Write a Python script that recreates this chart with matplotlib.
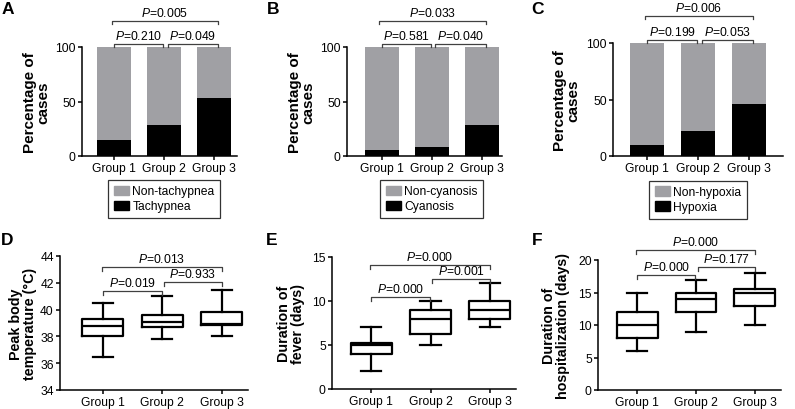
import numpy as np
import matplotlib
matplotlib.use('Agg')
import matplotlib.pyplot as plt
from matplotlib.patches import Patch

plt.rcParams['font.family'] = ['Liberation Sans', 'DejaVu Sans']
plt.rcParams['mathtext.fontset'] = 'custom'
plt.rcParams['mathtext.rm'] = 'Liberation Sans'
plt.rcParams['mathtext.it'] = 'Liberation Sans:italic'

groups = ['Group 1', 'Group 2', 'Group 3']

# stacked bars (percentage of cases)
tachypnea = [14.3, 28.6, 52.9]
cyanosis = [5.5, 8.5, 28.6]
hypoxia = [9.5, 22.5, 45.6]
bar_labels = [('Non-tachypnea', 'Tachypnea'), ('Non-cyanosis', 'Cyanosis'), ('Non-hypoxia', 'Hypoxia')]
bar_p = [['0.210', '0.049', '0.005'], ['0.581', '0.040', '0.033'], ['0.199', '0.053', '0.006']]

# box plots: whislo, q1, med, q3, whishi
temp_stats = [[36.5, 38.0, 38.8, 39.3, 40.5], [37.8, 38.7, 39.1, 39.6, 41.0], [38.0, 38.85, 38.95, 39.8, 41.5]]
fever_stats = [[2.0, 4.0, 5.0, 5.2, 7.0], [5.0, 6.2, 8.0, 9.0, 10.0], [7.0, 8.0, 9.0, 10.0, 12.0]]
hosp_stats = [[6.0, 8.0, 10.0, 12.0, 15.0], [9.0, 12.0, 14.0, 15.0, 17.0], [10.0, 13.0, 15.0, 15.5, 18.0]]
box_p = [['0.019', '0.933', '0.013'], ['0.000', '0.001', '0.000'], ['0.000', '0.177', '0.000']]

W, H = 795, 410
fig = plt.figure(figsize=(W / 100, H / 100), dpi=100)

def px_axes(l, t, r, b):
    return fig.add_axes([l / W, 1 - b / H, (r - l) / W, (b - t) / H])

def style(ax):
    for s in ['top', 'right']:
        ax.spines[s].set_visible(False)
    for s in ['left', 'bottom']:
        ax.spines[s].set_linewidth(1.1)
    ax.tick_params(direction='out', length=3, width=1.1, labelsize=8.7, pad=1.5)

def bracket(ax, x1, x2, y, tip, p):
    ax.plot([x1, x1, x2, x2], [y - tip, y, y, y - tip], color='#404040', lw=0.9, clip_on=False)
    ax.annotate('$P$=' + p, xy=((x1 + x2) / 2, y), xytext=(0, 3.5), textcoords='offset points',
                ha='center', va='baseline', fontsize=8.7, annotation_clip=False)

def ylabel(x, cy, s, size):
    fig.text(x / W, 1 - cy / H, s, rotation=90, ha='center', va='center',
             fontsize=size, fontweight='bold', multialignment='center', linespacing=0.95)

# panel boxes in pixels: left, top, right, bottom
bar_boxes = [(82, 48, 237, 157), (347, 48, 502, 157), (613, 44, 783, 157)]
bar_xlims = [(-0.64, 2.46), (-0.7, 2.41), (-0.67, 2.67)]
bar_series = [tachypnea, cyanosis, hypoxia]
label_x = [37, 302, 567]
letters_top = ['A', 'B', 'C']
letter_x = [2, 267, 531]

for i in range(3):
    ax = px_axes(*bar_boxes[i])
    x = np.arange(3)
    vals = np.array(bar_series[i])
    ax.bar(x, 100 - vals, bottom=vals, width=0.68, color='#a0a0a4')
    ax.bar(x, vals, width=0.68, color='black')
    ax.set_xlim(*bar_xlims[i])
    ax.set_ylim(0, 100)
    ax.set_yticks([0, 50, 100])
    ax.set_xticks(x)
    ax.set_xticklabels(groups)
    style(ax)
    tip = 3
    bracket(ax, 0.0, 0.98, 102.8, tip, bar_p[i][0])
    bracket(ax, 1.07, 2.08, 102.8, tip, bar_p[i][1])
    bracket(ax, -0.05, 2.08, 124, tip, bar_p[i][2])
    handles = [Patch(color='#a0a0a4', label=bar_labels[i][0]), Patch(color='black', label=bar_labels[i][1])]
    leg = ax.legend(handles=handles, loc='upper center', bbox_to_anchor=(1, -0.22),
                    bbox_transform=ax.get_xaxis_transform(), fontsize=8.7, frameon=True,
                    fancybox=False, edgecolor='black', handlelength=1.25, handleheight=0.8,
                    labelspacing=0.25, borderpad=0.45, handletextpad=0.3, borderaxespad=0)
    leg.get_frame().set_linewidth(0.9)
    ylabel(label_x[i], (bar_boxes[i][1] + bar_boxes[i][3]) / 2, 'Percentage of\ncases', 11)
    fig.text(letter_x[i] / W, 1 - 2 / H, letters_top[i], ha='left', va='top', fontsize=12.5, fontweight='bold')

box_boxes = [(60, 257, 248, 391), (332, 258, 516, 390), (598, 261, 781, 391)]
box_xlims = [(-0.72, 2.44), (-0.66, 2.44), (-0.67, 2.45)]
box_series = [temp_stats, fever_stats, hosp_stats]
box_ylims = [(34, 44), (0, 15), (0, 20)]
box_yticks = [np.arange(34, 45, 2), np.arange(0, 16, 5), np.arange(0, 21, 5)]
box_ylabels = ['Peak body\ntemperature (°C)', 'Duration of\nfever (days)', 'Duration of\nhospitalization (days)']
box_label_x = [23, 291, 556]
# bracket heights (G1-G2, G2-G3, G1-G3) and tip length per panel
box_br = [(41.4, 42.05, 43.2, 0.3), (10.5, 12.5, 14.06, 0.45), (17.75, 18.9, 21.5, 0.6)]
letters_bot = ['D', 'E', 'F']
letter_bot_x = [1, 266, 532]

for i in range(3):
    ax = px_axes(*box_boxes[i])
    stats = []
    for j, s in enumerate(box_series[i]):
        stats.append(dict(whislo=s[0], q1=s[1], med=s[2], q3=s[3], whishi=s[4], fliers=[], label=groups[j]))
    lp = dict(color='black', linewidth=1.6)
    ax.bxp(stats, positions=[0, 1, 2], widths=0.69, showfliers=False,
           boxprops=lp, whiskerprops=lp, capprops=lp, medianprops=lp, capwidths=0.34)
    ax.set_xlim(*box_xlims[i])
    ax.set_ylim(*box_ylims[i])
    ax.set_yticks(box_yticks[i])
    ax.set_xticks([0, 1, 2])
    ax.set_xticklabels(groups)
    style(ax)
    y12, y23, y13, tip = box_br[i]
    bracket(ax, 0.0, 0.99, y12, tip, box_p[i][0])
    bracket(ax, 1.03, 2.0, y23, tip, box_p[i][1])
    bracket(ax, -0.02, 2.0, y13, tip, box_p[i][2])
    ylabel(box_label_x[i], (box_boxes[i][1] + box_boxes[i][3]) / 2, box_ylabels[i], 10.3)
    fig.text(letter_bot_x[i] / W, 1 - 233 / H, letters_bot[i], ha='left', va='top', fontsize=12.5, fontweight='bold')

fig.savefig('out.png', dpi=100)
